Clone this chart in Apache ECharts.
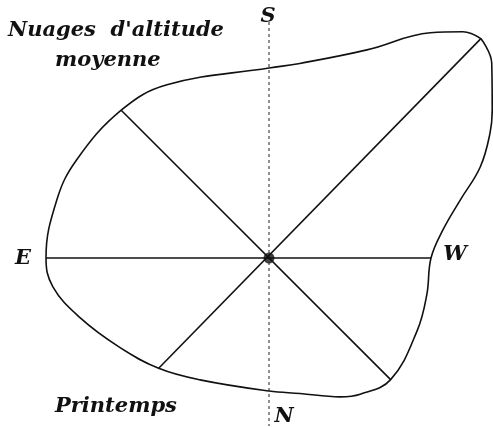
<!DOCTYPE html>
<html>
<head>
<meta charset="utf-8">
<script src="https://cdn.jsdelivr.net/npm/echarts@6/dist/echarts.min.js"></script>
<style>
  html, body { margin: 0; padding: 0; background: #fff; }
  #chart { width: 493px; height: 427px; }
</style>
</head>
<body>
<div id="chart"></div>
<script>
// bearing in degrees clockwise from S (top), radius in px
// starts and ends at the sharp corner of the NE spoke
const outlineBearing = [44, 48.8, 56.4, 60.5, 66.7, 73.1, 80.9, 90, 103, 116, 135, 146.2, 152.9, 167.1, 180,
  209.5, 225, 239.1, 252.4, 262.4, 270, 285.3, 297, 315, 329.5, 360, 369, 385.2, 395.6, 400.6, 404]
const outlineRadius = [305, 296, 268, 254, 230, 200, 176, 162, 162, 165, 172, 164, 156, 139, 133,
  140, 156, 174, 198, 218, 223, 220, 216, 209, 201, 190, 197, 230, 277, 298, 305]

// spokes drawn through the centre: [bearing A, radius A, bearing B, radius B]
const spokes = [
  [270, 223, 90, 162],   // E - W
  [315, 209, 135, 172],  // NW - SE
  [44, 305, 225, 156]    // NE - SW
]
const meridian = [360, 236, 180, 168] // S - N dashed

const chart = echarts.init(document.getElementById('chart'))

const black = '#111'
const labelFont = 'italic bold 21px "DejaVu Serif"'

const series = [
  {
    type: 'line',
    coordinateSystem: 'polar',
    data: outlineBearing.map((b, i) => [outlineRadius[i], b]),
    smooth: 0.4,
    symbol: 'none',
    lineStyle: { color: black, width: 1.6 },
    silent: true
  },
  {
    type: 'line',
    coordinateSystem: 'polar',
    data: [[meridian[1], meridian[0]], [meridian[3], meridian[2]]],
    symbol: 'none',
    lineStyle: { color: '#222', width: 1, type: [3, 3] },
    silent: true
  }
]
spokes.forEach(s => {
  series.push({
    type: 'line',
    coordinateSystem: 'polar',
    data: [[s[1], s[0]], [s[3], s[2]]],
    symbol: 'none',
    lineStyle: { color: black, width: 1.6 },
    silent: true
  })
})
series.push({
  type: 'scatter',
  coordinateSystem: 'polar',
  data: [[0, 90]],
  symbolSize: 11,
  itemStyle: { color: black },
  silent: true
})

const txt = (text, x, y, align) => ({
  type: 'text',
  style: { text: text, x: x, y: y, font: labelFont, fill: black, align: align || 'center', verticalAlign: 'middle' }
})

chart.setOption({
  animation: false,
  polar: { center: [269, 258], radius: 310 },
  radiusAxis: {
    type: 'value', min: 0, max: 310,
    axisLine: { show: false }, axisTick: { show: false }, axisLabel: { show: false }, splitLine: { show: false }
  },
  angleAxis: {
    type: 'value', min: 44, max: 404, startAngle: 46, clockwise: true,
    axisLine: { show: false }, axisTick: { show: false }, axisLabel: { show: false }, splitLine: { show: false }
  },
  series: series,
  graphic: [
    txt("Nuages  d'altitude", 8, 31, 'left'),
    txt('moyenne', 55, 61, 'left'),
    txt('Printemps', 55, 407, 'left'),
    txt('S', 268, 17),
    txt('E', 23, 259),
    txt('W', 455, 255),
    txt('N', 284, 417)
  ]
})
</script>
</body>
</html>
